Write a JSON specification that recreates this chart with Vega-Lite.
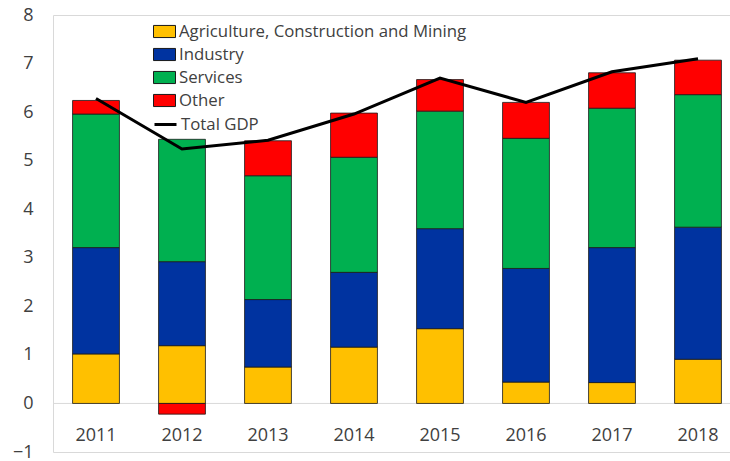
{
  "$schema": "https://vega.github.io/schema/vega-lite/v6.json",
  "autosize": "none",
  "width": 688,
  "height": 437,
  "padding": {"left": 53, "top": 15, "right": 0, "bottom": 9},
  "background": "white",
  "config": {
    "font": "Open Sans",
    "view": {"stroke": "#d9d9d9", "strokeWidth": 1}
  },
  "datasets": {
    "sectors": [
      {"year": "2011", "k": 1, "sector": "Agriculture, Construction and Mining", "value": 1.02},
      {"year": "2011", "k": 2, "sector": "Industry", "value": 2.19},
      {"year": "2011", "k": 3, "sector": "Services", "value": 2.75},
      {"year": "2011", "k": 4, "sector": "Other", "value": 0.28},
      {"year": "2012", "k": 1, "sector": "Agriculture, Construction and Mining", "value": 1.19},
      {"year": "2012", "k": 2, "sector": "Industry", "value": 1.73},
      {"year": "2012", "k": 3, "sector": "Services", "value": 2.52},
      {"year": "2012", "k": 4, "sector": "Other", "value": -0.22},
      {"year": "2013", "k": 1, "sector": "Agriculture, Construction and Mining", "value": 0.75},
      {"year": "2013", "k": 2, "sector": "Industry", "value": 1.39},
      {"year": "2013", "k": 3, "sector": "Services", "value": 2.55},
      {"year": "2013", "k": 4, "sector": "Other", "value": 0.72},
      {"year": "2014", "k": 1, "sector": "Agriculture, Construction and Mining", "value": 1.16},
      {"year": "2014", "k": 2, "sector": "Industry", "value": 1.54},
      {"year": "2014", "k": 3, "sector": "Services", "value": 2.37},
      {"year": "2014", "k": 4, "sector": "Other", "value": 0.91},
      {"year": "2015", "k": 1, "sector": "Agriculture, Construction and Mining", "value": 1.54},
      {"year": "2015", "k": 2, "sector": "Industry", "value": 2.06},
      {"year": "2015", "k": 3, "sector": "Services", "value": 2.42},
      {"year": "2015", "k": 4, "sector": "Other", "value": 0.65},
      {"year": "2016", "k": 1, "sector": "Agriculture, Construction and Mining", "value": 0.44},
      {"year": "2016", "k": 2, "sector": "Industry", "value": 2.34},
      {"year": "2016", "k": 3, "sector": "Services", "value": 2.68},
      {"year": "2016", "k": 4, "sector": "Other", "value": 0.74},
      {"year": "2017", "k": 1, "sector": "Agriculture, Construction and Mining", "value": 0.43},
      {"year": "2017", "k": 2, "sector": "Industry", "value": 2.78},
      {"year": "2017", "k": 3, "sector": "Services", "value": 2.87},
      {"year": "2017", "k": 4, "sector": "Other", "value": 0.73},
      {"year": "2018", "k": 1, "sector": "Agriculture, Construction and Mining", "value": 0.91},
      {"year": "2018", "k": 2, "sector": "Industry", "value": 2.72},
      {"year": "2018", "k": 3, "sector": "Services", "value": 2.73},
      {"year": "2018", "k": 4, "sector": "Other", "value": 0.71}
    ],
    "gdp": [
      {"year": "2011", "series": "Total GDP", "value": 6.28},
      {"year": "2012", "series": "Total GDP", "value": 5.24},
      {"year": "2013", "series": "Total GDP", "value": 5.42},
      {"year": "2014", "series": "Total GDP", "value": 5.96},
      {"year": "2015", "series": "Total GDP", "value": 6.70},
      {"year": "2016", "series": "Total GDP", "value": 6.20},
      {"year": "2017", "series": "Total GDP", "value": 6.83},
      {"year": "2018", "series": "Total GDP", "value": 7.10}
    ]
  },
  "encoding": {
    "x": {
      "field": "year",
      "type": "ordinal",
      "title": null,
      "scale": {"paddingInner": 0.455, "paddingOuter": 0.2275},
      "axis": {
        "orient": "bottom",
        "domain": false,
        "ticks": false,
        "labelAngle": 0,
        "labelFontSize": 18,
        "labelColor": "#404040",
        "offset": -28,
        "labelPadding": 2
      }
    }
  },
  "layer": [
    {
      "data": {"values": [{"z": 0}]},
      "mark": {"type": "rule", "color": "#d9d9d9", "strokeWidth": 1},
      "encoding": {"y": {"field": "z", "type": "quantitative"}, "x": null}
    },
    {
      "data": {"name": "sectors"},
      "mark": {"type": "bar", "stroke": "#1a1a1a", "strokeWidth": 0.8},
      "encoding": {
        "y": {
          "field": "value",
          "type": "quantitative",
          "stack": "zero",
          "title": null,
          "scale": {"domain": [-1, 8], "nice": false},
          "axis": {
            "domain": false,
            "ticks": false,
            "grid": false,
            "values": [-1, 0, 1, 2, 3, 4, 5, 6, 7, 8],
            "labelFontSize": 18,
            "labelColor": "#404040",
            "labelPadding": 20
          }
        },
        "color": {
          "field": "sector",
          "type": "nominal",
          "sort": ["Agriculture, Construction and Mining", "Industry", "Services", "Other"],
          "scale": {
            "domain": ["Agriculture, Construction and Mining", "Industry", "Services", "Other"],
            "range": ["#FFC000", "#0033A0", "#00B050", "#FF0000"]
          },
          "legend": {
            "title": null,
            "orient": "none",
            "legendX": 100,
            "legendY": 5,
            "padding": 0,
            "symbolType": "M-1,-0.55H1V0.55H-1Z",
            "symbolSize": 484,
            "symbolStrokeColor": "#1a1a1a",
            "symbolStrokeWidth": 1,
            "labelFontSize": 16.8,
            "labelColor": "#404040",
            "labelOffset": 3,
            "rowPadding": 2,
            "labelLimit": 400
          }
        },
        "order": {"field": "k", "type": "quantitative", "sort": "ascending"}
      }
    },
    {
      "data": {"name": "gdp"},
      "mark": {"type": "line", "strokeWidth": 3},
      "encoding": {
        "y": {"field": "value", "type": "quantitative"},
        "stroke": {
          "field": "series",
          "type": "nominal",
          "scale": {"domain": ["Total GDP"], "range": ["#000000"]},
          "legend": {
            "title": null,
            "orient": "none",
            "legendX": 100,
            "legendY": 97,
            "padding": 0,
            "symbolType": "stroke",
            "symbolSize": 484,
            "symbolStrokeWidth": 3,
            "labelFontSize": 16.8,
            "labelColor": "#404040",
            "labelOffset": 3
          }
        }
      }
    }
  ]
}
